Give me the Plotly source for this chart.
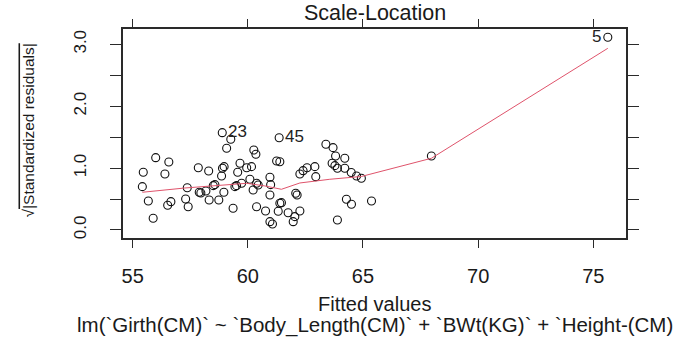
import plotly.graph_objects as go

# Fitted values (x) and sqrt(|standardized residuals|) (y)
fitted = [55.42, 55.46, 55.68, 55.89, 56.00, 56.40, 56.57, 56.52, 56.66, 57.30,
          57.37, 57.41, 57.85, 57.89, 57.96, 58.18, 58.30, 58.32, 58.50, 58.57,
          58.74, 58.86, 58.90, 58.97, 58.96, 59.08, 59.26, 58.89, 59.36, 59.44,
          59.51, 59.56, 59.66, 59.73, 59.95, 60.09, 60.16, 60.23, 60.26, 60.35,
          60.38, 60.38, 60.45, 60.77, 60.96, 60.99, 60.96, 60.96, 61.07, 61.25,
          61.39, 61.36, 61.32, 61.39, 61.46, 61.75, 61.97, 62.04, 62.08, 62.14,
          62.26, 62.26, 62.40, 62.57, 62.91, 62.95, 63.39, 63.70, 63.66, 63.78,
          63.81, 63.89, 64.21, 64.21, 64.28, 64.50, 64.49, 63.89, 64.72, 64.93,
          65.37, 67.97, 75.63]
sqrt_std_resid = [0.700, 0.932, 0.468, 0.189, 1.168, 0.905, 1.099, 0.399, 0.457, 0.501,
                  0.683, 0.376, 1.006, 0.609, 0.598, 0.630, 0.953, 0.485, 0.716, 0.732,
                  0.485, 0.872, 0.997, 1.023, 0.609, 1.320, 1.465, 1.572, 0.351, 0.700,
                  0.716, 0.932, 1.078, 0.754, 1.006, 0.819, 1.023, 0.646, 1.292, 1.223,
                  0.754, 0.376, 0.727, 0.307, 0.851, 0.732, 0.565, 0.134, 0.097, 1.115,
                  1.103, 1.491, 0.302, 0.431, 0.441, 0.279, 0.134, 0.215, 0.593, 0.565,
                  0.307, 0.905, 0.958, 1.006, 1.023, 0.861, 1.384, 1.330, 1.078, 1.039,
                  1.195, 0.162, 1.158, 0.997, 0.496, 0.415, 0.929, 0.997, 0.872, 0.835,
                  0.468, 1.195, 3.113]

# Smoother (red line)
smooth_x = [55.42, 57.27, 59.95, 60.74, 61.46, 62.26, 63.56, 64.93, 67.97, 75.63]
smooth_y = [0.609, 0.678, 0.754, 0.711, 0.657, 0.759, 0.819, 0.864, 1.158, 2.935]

# Labelled observations (index into arrays above, label text)
label_idx = [27, 51, 82]
label_txt = ["23", "45", "5"]

x_ticks = [55, 60, 65, 70, 75]
y_ticks = [0.0, 0.5, 1.0, 1.5, 2.0, 2.5, 3.0]
y_ticklabels = ["0.0", "", "1.0", "", "2.0", "", "3.0"]

FONT = "Liberation Sans, Arial, sans-serif"
INK = "#1a1a1a"
FRAME = "#2a2a2a"

fig = go.Figure()
fig.add_trace(go.Scatter(
    x=fitted, y=sqrt_std_resid, mode="markers",
    marker=dict(symbol="circle-open", size=8, color="#111111", line=dict(width=1.1)),
    showlegend=False, hoverinfo="x+y", cliponaxis=False))
fig.add_trace(go.Scatter(
    x=smooth_x, y=smooth_y, mode="lines",
    line=dict(color="#DF536B", width=1), showlegend=False))

annotations = []
for i, t in zip(label_idx, label_txt):
    right = fitted[i] < 70
    annotations.append(dict(
        x=fitted[i], y=sqrt_std_resid[i], xref="x", yref="y", text=t,
        showarrow=False, xanchor="left" if right else "right",
        xshift=4 if right else -5, yshift=1,
        font=dict(family=FONT, size=17, color="#222222")))

annotations += [
    dict(x=0.5, y=0, xref="paper", yref="paper", text="Fitted values",
         showarrow=False, xanchor="center", yanchor="middle", yshift=-66,
         font=dict(family=FONT, size=20, color=INK)),
    dict(x=0.5, y=0, xref="paper", yref="paper",
         text="lm(`Girth(CM)` ~ `Body_Length(CM)` + `BWt(KG)` + `Height-(CM)",
         showarrow=False, xanchor="center", yanchor="middle", yshift=-87,
         font=dict(family=FONT, size=20.5, color=INK)),
    dict(x=0.5, y=1, xref="paper", yref="paper", text="Scale-Location",
         showarrow=False, xanchor="center", yanchor="bottom", yshift=2,
         font=dict(family=FONT, size=21.5, color=INK)),
    dict(x=(28.5 - 123) / 503.0, y=0.512, xref="paper", yref="paper",
         text="√<span style='text-decoration:overline'>|Standardized residuals|</span>",
         showarrow=False, textangle=-90, xanchor="center", yanchor="middle",
         font=dict(family=FONT, size=15.5, color=INK)),
]

fig.update_layout(
    width=696, height=338,
    # plot box at x 123..626, y 29..238 of the 696x338 window
    margin=dict(l=123, r=70, t=29, b=100, autoexpand=False),
    plot_bgcolor="white", paper_bgcolor="white",
    annotations=annotations,
    font=dict(family=FONT, size=16, color=INK),
    xaxis=dict(range=[54.58, 76.42], tickvals=x_ticks, ticktext=[str(v) for v in x_ticks],
               showgrid=False, zeroline=False, showline=True, mirror="all",
               linecolor=FRAME, linewidth=1.5,
               ticks="outside", ticklen=8, tickcolor=FRAME, ticklabelstandoff=11,
               tickfont=dict(family=FONT, size=20, color=INK)),
    yaxis=dict(range=[-0.13, 3.247], tickvals=y_ticks, ticktext=y_ticklabels,
               showgrid=False, zeroline=False, showline=True, mirror="all",
               linecolor=FRAME, linewidth=1.5,
               ticks="outside", ticklen=11, tickcolor=FRAME, tickangle=-90,
               ticklabelstandoff=17,
               tickfont=dict(family=FONT, size=17, color=INK)),
)

# remove the page's default 8px body margin so the figure fills the window exactly
fig.write_html("out.html", config={"displayModeBar": False},
               post_script="document.body.style.margin='0';")
